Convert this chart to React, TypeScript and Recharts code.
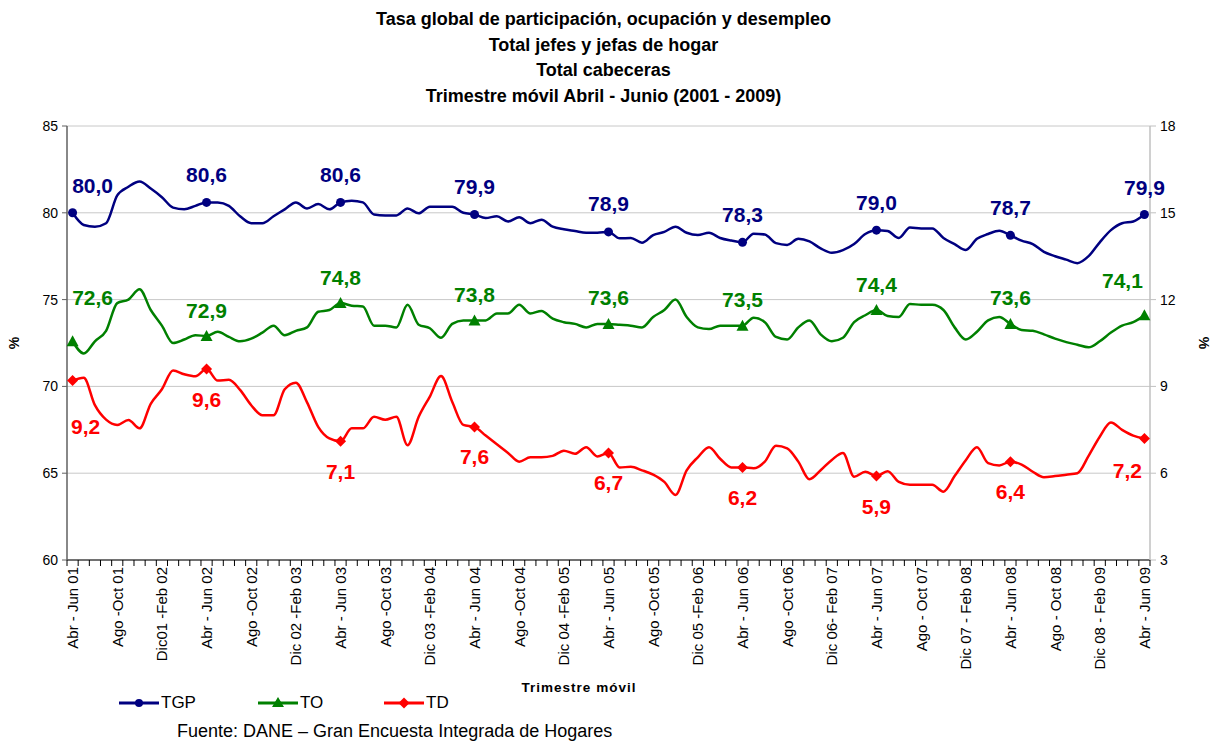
import React from 'react';
import { LineChart, Line, XAxis, YAxis, CartesianGrid } from 'recharts';

const months = ['Ene', 'Feb', 'Mar', 'Abr', 'May', 'Jun', 'Jul', 'Ago', 'Sep', 'Oct', 'Nov', 'Dic'];

// 97 rolling quarters: Abr-Jun 01 ... Abr-Jun 09
const categories: string[] = Array.from({ length: 97 }, (_, i) => {
  const s = 3 + i;
  const e = s + 2;
  const sy = 1 + Math.floor(s / 12);
  const ey = 1 + Math.floor(e / 12);
  return `${months[s % 12]} ${String(sy).padStart(2, '0')} - ${months[e % 12]} ${String(ey).padStart(2, '0')}`;
});

const tickLabels = [
  'Abr - Jun 01', 'Ago -Oct 01', 'Dic01 -Feb 02',
  'Abr - Jun 02', 'Ago -Oct 02', 'Dic 02 -Feb 03',
  'Abr - Jun 03', 'Ago -Oct 03', 'Dic 03 -Feb 04',
  'Abr - Jun 04', 'Ago -Oct 04', 'Dic 04 -Feb 05',
  'Abr - Jun 05', 'Ago -Oct 05', 'Dic 05 -Feb 06',
  'Abr - Jun 06', 'Ago -Oct 06', 'Dic  06- Feb 07',
  'Abr - Jun 07', 'Ago - Oct 07', 'Dic 07 - Feb 08',
  'Abr - Jun 08', 'Ago - Oct 08', 'Dic 08 - Feb 09',
  'Abr - Jun 09',
];

const tgp = [
  80.0, 79.3, 79.2, 79.4, 81.0, 81.5, 81.8, 81.4, 80.9, 80.3, 80.2, 80.4,
  80.6, 80.6, 80.4, 79.8, 79.4, 79.4, 79.8, 80.2, 80.6, 80.25, 80.5, 80.2,
  80.6, 80.7, 80.6, 79.9, 79.85, 79.85, 80.25, 79.97, 80.35, 80.35, 80.35, 80.0,
  79.9, 79.7, 79.8, 79.5, 79.75, 79.4, 79.6, 79.2, 79.05, 78.95, 78.85, 78.85,
  78.9, 78.53, 78.55, 78.28, 78.72, 78.9, 79.2, 78.85, 78.72, 78.85, 78.55, 78.4,
  78.3, 78.8, 78.75, 78.25, 78.15, 78.5, 78.35, 77.95, 77.7, 77.85, 78.2, 78.78,
  79.0, 78.95, 78.55, 79.15, 79.1, 79.1, 78.55, 78.2, 77.86, 78.5, 78.78, 78.97,
  78.7, 78.4, 78.2, 77.75, 77.5, 77.3, 77.1, 77.5, 78.3, 79.0, 79.4, 79.5,
  79.9,
];

const to = [
  72.6, 71.9, 72.6, 73.2, 74.8, 75.0, 75.6, 74.4, 73.5, 72.5, 72.7, 72.95,
  72.9, 73.15, 72.85, 72.6, 72.75, 73.1, 73.5, 72.95, 73.2, 73.4, 74.3, 74.4,
  74.8, 74.65, 74.6, 73.5, 73.5, 73.4, 74.7, 73.55, 73.35, 72.8, 73.6, 73.8,
  73.8, 73.8, 74.2, 74.2, 74.7, 74.2, 74.35, 73.9, 73.7, 73.6, 73.4, 73.6,
  73.6, 73.55, 73.5, 73.4, 74.0, 74.4, 75.0, 74.0, 73.4, 73.3, 73.5, 73.5,
  73.5, 73.95, 73.7, 72.85, 72.7, 73.4, 73.8, 73.0, 72.6, 72.8, 73.7, 74.1,
  74.4, 74.05, 74.0, 74.75, 74.7, 74.7, 74.4, 73.4, 72.7, 73.15, 73.8, 74.0,
  73.6, 73.25, 73.2, 73.0, 72.75, 72.55, 72.4, 72.25, 72.6, 73.1, 73.5, 73.7,
  74.1,
];

const td = [
  9.2, 9.3, 8.35, 7.85, 7.67, 7.84, 7.55, 8.4, 8.9, 9.55, 9.42, 9.35,
  9.6, 9.2, 9.23, 8.88, 8.35, 8.0, 8.0, 8.9, 9.13, 8.45, 7.6, 7.2,
  7.1, 7.55, 7.55, 7.95, 7.85, 7.95, 6.97, 7.95, 8.65, 9.36, 8.47, 7.67,
  7.6, 7.3, 7.0, 6.7, 6.4, 6.55, 6.55, 6.6, 6.78, 6.67, 6.9, 6.58,
  6.7, 6.2, 6.22, 6.1, 5.95, 5.7, 5.25, 6.1, 6.55, 6.9, 6.5, 6.2,
  6.2, 6.17, 6.4, 6.95, 6.86, 6.4, 5.79, 6.1, 6.46, 6.7, 5.88, 6.05,
  5.9, 6.07, 5.7, 5.6, 5.6, 5.6, 5.36, 5.9, 6.45, 6.9, 6.35, 6.27,
  6.4, 6.3, 6.05, 5.86, 5.9, 5.95, 6.0, 6.6, 7.26, 7.75, 7.5, 7.3,
  7.2,
];

const leftTicks = [60, 65, 70, 75, 80, 85];
const rightTicks = [3, 6, 9, 12, 15, 18];

const data = categories.map((c, i) => ({ cat: c, TGP: tgp[i], TO: to[i], TD: td[i] }));

const W = 1215;
const H = 742;
const MARGIN = { top: 126, right: 20, bottom: 0, left: 0 };
const LEFT_W = 67;
const RIGHT_W = 45;
const PLOT_W = W - MARGIN.left - MARGIN.right - LEFT_W - RIGHT_W;
const BAND = PLOT_W / categories.length;
const MARK_EVERY = 12;
const LABEL_EVERY = 4;
const FONT = 'Arial, "Liberation Sans", sans-serif';

const COLORS = { TGP: '#000080', TO: '#008000', TD: '#ff0000' };

const fmt = (v: number) => v.toFixed(1).replace('.', ',');

const XTick = (props: any) => {
  const { x, y, payload } = props;
  const idx = payload.index;
  const last = idx === categories.length - 1;
  const lblIdx = idx / LABEL_EVERY;
  return (
    <g>
      <line x1={x - BAND / 2} x2={x - BAND / 2} y1={y} y2={y + 6} stroke="#000" strokeWidth={1} />
      {last && <line x1={x + BAND / 2} x2={x + BAND / 2} y1={y} y2={y + 6} stroke="#000" strokeWidth={1} />}
      {idx % LABEL_EVERY === 0 && (
        <text
          x={x}
          y={y + 7}
          transform={`rotate(-90, ${x}, ${y + 7})`}
          textAnchor="end"
          dominantBaseline="central"
          fontSize={15}
          fontFamily={FONT}
          fill="#000"
        >
          {tickLabels[lblIdx]}
        </text>
      )}
    </g>
  );
};

const makeDot = (shape: 'circle' | 'triangle' | 'diamond', color: string) => (props: any) => {
  const { cx, cy, index } = props;
  if (index % MARK_EVERY !== 0 || cx == null || cy == null) return <g key={`d${index}`} />;
  if (shape === 'circle') return <circle key={`d${index}`} cx={cx} cy={cy} r={4.5} fill={color} />;
  if (shape === 'triangle')
    return (
      <polygon
        key={`d${index}`}
        points={`${cx},${cy - 6} ${cx + 6},${cy + 5} ${cx - 6},${cy + 5}`}
        fill={color}
      />
    );
  return (
    <polygon
      key={`d${index}`}
      points={`${cx},${cy - 5.5} ${cx + 5.5},${cy} ${cx},${cy + 5.5} ${cx - 5.5},${cy}`}
      fill={color}
    />
  );
};

type Off = { first: [number, number]; last: [number, number]; def: number };
const LABEL_OFF: Record<string, Off> = {
  TGP: { first: [20, -27], last: [0, -27], def: -28 },
  TO: { first: [20, -44], last: [-22, -35], def: -26 },
  TD: { first: [13, 46], last: [-17, 32], def: 30 },
};

const makeLabel = (key: string, color: string) => (props: any) => {
  const { x, y, index, value } = props;
  if (index % MARK_EVERY !== 0 || x == null) return <g key={`l${index}`} />;
  const o = LABEL_OFF[key];
  let dx = 0;
  let dy = o.def;
  if (index === 0) [dx, dy] = o.first;
  else if (index === categories.length - 1) [dx, dy] = o.last;
  return (
    <text
      key={`l${index}`}
      x={x + dx}
      y={y + dy}
      textAnchor="middle"
      dominantBaseline="central"
      fontSize={21}
      fontWeight="bold"
      fontFamily={FONT}
      fill={color}
    >
      {fmt(Number(value))}
    </text>
  );
};

const LegendItem = ({ name, color, shape, left }: any) => (
  <div style={{ position: 'absolute', left, top: 693, display: 'flex', alignItems: 'center' }}>
    <svg width={42} height={20}>
      <line x1={0} x2={40} y1={10} y2={10} stroke={color} strokeWidth={3} />
      {shape === 'circle' && <circle cx={20} cy={10} r={4} fill={color} />}
      {shape === 'triangle' && <polygon points="20,4 26,14 14,14" fill={color} />}
      {shape === 'diamond' && <polygon points="20,4.5 25.5,10 20,15.5 14.5,10" fill={color} />}
    </svg>
    <span style={{ fontFamily: FONT, fontSize: 17, color: '#000' }}>{name}</span>
  </div>
);

export default function App() {
  return (
    <div style={{ position: 'absolute', left: 0, top: 0, width: W, height: H, background: '#fff', fontFamily: FONT }}>
      <div
        style={{
          position: 'absolute',
          left: 0,
          top: 7,
          width: W - 8,
          textAlign: 'center',
          fontWeight: 'bold',
          fontSize: 18,
          lineHeight: '25.5px',
          color: '#000',
        }}
      >
        <div>Tasa global de participación, ocupación y desempleo</div>
        <div>Total jefes y jefas de hogar</div>
        <div>Total cabeceras</div>
        <div>Trimestre móvil Abril - Junio (2001 - 2009)</div>
      </div>
      <div style={{ position: 'absolute', left: 0, top: 0 }}>
        <LineChart width={W} height={H} data={data} margin={MARGIN}>
          <CartesianGrid vertical={false} stroke="#c8c8c8" strokeWidth={1} yAxisId="left" />
          <XAxis
            dataKey="cat"
            scale="band"
            interval={0}
            height={182}
            tickLine={false}
            tickSize={0}
            tickMargin={0}
            tick={<XTick />}
            axisLine={{ stroke: '#000', strokeWidth: 1 }}
          />
          <YAxis
            yAxisId="left"
            orientation="left"
            width={LEFT_W}
            domain={[60, 85]}
            ticks={leftTicks}
            interval={0}
            tickSize={5}
            tickMargin={4}
            allowDataOverflow
            axisLine={{ stroke: '#606060', strokeWidth: 1.5 }}
            tickLine={{ stroke: '#606060' }}
            tick={{ fill: '#000', fontSize: 14, fontFamily: FONT }}
            label={(p: any) => {
              const vb = p.viewBox || {};
              const cx = 14;
              const cy = (vb.y ?? 126) + (vb.height ?? 434) / 2;
              return (
                <text x={cx} y={cy} transform={`rotate(-90, ${cx}, ${cy})`} textAnchor="middle" dominantBaseline="central" fontSize={14} fontWeight="bold" fontFamily={FONT} fill="#000">
                  %
                </text>
              );
            }}
          />
          <YAxis
            yAxisId="right"
            orientation="right"
            width={RIGHT_W}
            domain={[3, 18]}
            ticks={rightTicks}
            interval={0}
            tickSize={6}
            tickMargin={4}
            allowDataOverflow
            axisLine={{ stroke: '#c0c0c0', strokeWidth: 1.5 }}
            tickLine={{ stroke: '#c0c0c0' }}
            tick={{ fill: '#000', fontSize: 14, fontFamily: FONT }}
            label={(p: any) => {
              const vb = p.viewBox || {};
              const cx = 1204;
              const cy = (vb.y ?? 126) + (vb.height ?? 434) / 2;
              return (
                <text x={cx} y={cy} transform={`rotate(90, ${cx}, ${cy})`} textAnchor="middle" dominantBaseline="central" fontSize={14} fontWeight="bold" fontFamily={FONT} fill="#000">
                  %
                </text>
              );
            }}
          />
          <Line
            yAxisId="left"
            type="monotone"
            dataKey="TGP"
            stroke={COLORS.TGP}
            strokeWidth={2.5}
            dot={makeDot('circle', COLORS.TGP)}
            activeDot={false}
            label={makeLabel('TGP', COLORS.TGP)}
            isAnimationActive={false}
          />
          <Line
            yAxisId="left"
            type="monotone"
            dataKey="TO"
            stroke={COLORS.TO}
            strokeWidth={2.5}
            dot={makeDot('triangle', COLORS.TO)}
            activeDot={false}
            label={makeLabel('TO', COLORS.TO)}
            isAnimationActive={false}
          />
          <Line
            yAxisId="right"
            type="monotone"
            dataKey="TD"
            stroke={COLORS.TD}
            strokeWidth={2.5}
            dot={makeDot('diamond', COLORS.TD)}
            activeDot={false}
            label={makeLabel('TD', COLORS.TD)}
            isAnimationActive={false}
          />
        </LineChart>
      </div>
      <div
        style={{
          position: 'absolute',
          left: 479,
          top: 680,
          width: 200,
          textAlign: 'center',
          fontWeight: 'bold',
          fontSize: 13.5,
          letterSpacing: 1,
          color: '#000',
        }}
      >
        Trimestre móvil
      </div>
      <LegendItem name="TGP" color={COLORS.TGP} shape="circle" left={119} />
      <LegendItem name="TO" color={COLORS.TO} shape="triangle" left={258} />
      <LegendItem name="TD" color={COLORS.TD} shape="diamond" left={384} />
      <div style={{ position: 'absolute', left: 177, top: 721, fontSize: 18, color: '#000' }}>
        Fuente: DANE – Gran Encuesta Integrada de Hogares
      </div>
    </div>
  );
}
